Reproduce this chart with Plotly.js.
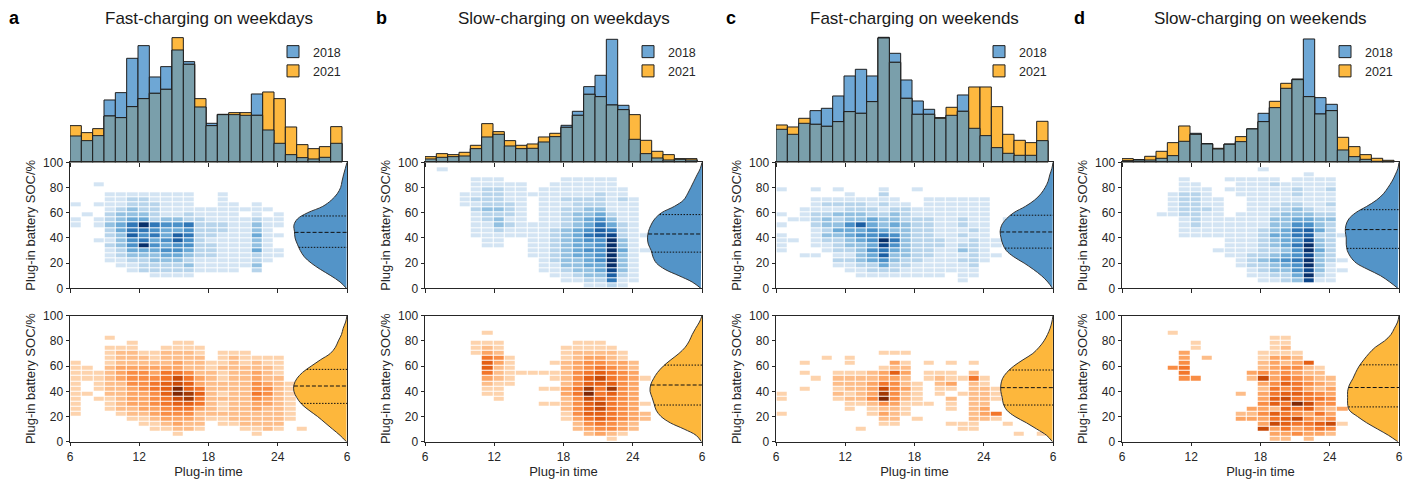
<!DOCTYPE html>
<html>
<head>
<meta charset="utf-8">
<script src="https://cdn.plot.ly/plotly-3.0.1.min.js"></script>
<style>
html,body{margin:0;padding:0;background:#ffffff;}
#chart{width:1415px;height:479px;}
</style>
</head>
<body>
<div id="chart"></div>
<script>
// ================= DATA =================
const panelTitles = ['Fast-charging on weekdays','Slow-charging on weekdays','Fast-charging on weekends','Slow-charging on weekends'];
const panelLetters = ['a','b','c','d'];
const yearLabels = ['2018','2021'];
const timeTickValues = [6,12,18,24,30];
const timeTickLabels = ['6','12','18','24','6'];
const socTickValues = [0,20,40,60,80,100];
const hourBins = [6,7,8,9,10,11,12,13,14,15,16,17,18,19,20,21,22,23,24,25,26,27,28,29];

// top histograms (relative frequency per plug-in hour bin)
const fastWeekday2018 = [7.9,6.5,8.0,18.7,20.9,31.2,35.0,25.6,28.7,33.7,30.2,16.6,11.7,14.4,14.3,14.1,20.5,9.7,5.7,2.3,1.4,1.0,1.5,5.7];
const fastWeekday2021 = [11.0,8.9,10.1,13.9,13.4,16.7,19.1,20.7,21.9,37.4,29.4,19.1,11.0,14.3,14.9,14.9,14.1,21.1,19.1,10.6,5.3,4.1,4.7,10.7];
const slowWeekday2018 = [1.0,1.5,1.7,1.9,4.1,7.6,8.4,4.9,4.1,4.2,6.1,7.7,11.1,15.3,22.7,26.1,36.9,17.1,6.9,2.6,1.3,0.7,0.9,0.7];
const slowWeekday2021 = [1.7,2.6,2.3,3.0,5.1,11.6,9.2,6.5,5.1,5.5,7.6,8.7,10.5,14.1,20.4,19.7,17.2,15.8,14.3,6.6,3.3,2.3,1.1,1.1];
const fastWeekend2018 = [9.9,8.4,11.7,15.5,16.2,19.9,25.9,27.9,25.9,37.5,32.7,24.7,18.4,15.9,13.2,14.1,20.2,10.2,8.0,4.4,2.7,2.1,2.1,6.5];
const fastWeekend2021 = [11.2,10.6,13.2,11.4,10.8,12.2,15.2,14.7,18.2,37.3,30.0,19.2,14.4,14.4,13.4,16.5,15.3,22.6,22.6,16.7,8.4,6.6,5.9,12.3];
const slowWeekend2018 = [0.5,0.8,0.7,1.2,2.0,6.3,8.7,5.6,4.0,5.5,6.2,10.0,14.7,16.4,22.2,25.0,37.0,19.4,17.4,3.7,1.7,0.9,0.3,0.2];
const slowWeekend2021 = [1.1,0.7,1.8,3.3,5.9,10.9,8.4,5.5,4.2,5.4,7.7,10.0,12.2,18.3,23.7,24.8,19.7,14.5,15.5,7.5,4.7,2.3,1.2,0.6];

// 2D histograms: density level 0-9 per cell; rows from SOC 96-100 (top) down to 0-4,
// columns = hour bins from 6:00 (groups of five separated by spaces)
const heatFastWeekday2018 = ['','','','','00100','',
 '00011 11111 10010','00011 22111 10010','10111 22211 10011 01000','00012 32211 11111 11100',
 '01023 33211 21111 01010','10123 44233 22111 12110','10134 69655 62221 13110','00024 66544 52221 13100',
 '00023 75647 62211 14110','00113 56457 52111 13100','00023 59545 52211 13100','00012 44455 42211 14110',
 '00012 33344 32211 12110','00011 22333 21111 12100','00001 12222 31111 13000','00000 12222 21111 02000',
 '00000 00111 10000','',''];
const heatFastWeekday2021 = ['','','','','00010','00000 10001 10000',
 '00011 10011 11000','00012 21122 21011 10000','00012 22122 22012 11110','10012 22223 22112 12110',
 '11023 33333 22122 22210','11123 44355 42212 23210','11123 44457 53212 23220','10122 44567 63222 24321',
 '10122 34569 65222 24421','11022 33469 86212 25421','10112 33457 85222 24321','10012 33456 65212 23321',
 '10012 23345 53212 23221','10001 22344 42222 22221','00000 11233 32112 22221','00000 01123 22011 22220',
 '00000 00112 21000 11210 1','00000 00001 00000 01000',''];
const heatSlowWeekday2018 = ['','01000','','00001 11000 00111 11000','00001 11110 01111 11000','00001 22110 11111 11100',
 '00011 22111 11111 21100','00012 22110 11222 21210','00011 22210 11122 21110','00002 33210 11223 31110',
 '00001 22210 11233 42110','00001 23110 11234 53110','00001 13211 11234 64210','00001 12111 12345 76210',
 '00001 11111 12346 78211','00000 11001 12345 59310','00000 11001 12344 59310','00000 00001 12345 59411',
 '00000 00001 12344 59310','00000 00000 12334 59310','00000 00000 11334 49310','00000 00000 11233 48310',
 '00000 00000 01123 37210','00000 00000 00112 26110','00000 00000 00001 12100'];
const heatSlowWeekday2021 = ['','','','00000 10000','','00001 11000 00011 10000',
 '00001 21000 00111 11000','00001 32000 00122 22100','00000 54100 00123 32100','00000 63100 01234 43320',
 '00000 62100 00234 54320','00000 52111 11245 65430','00000 32100 01246 75431','00000 21100 00246 66430',
 '00000 11000 11358 58430','00000 11000 00359 56430','00000 01000 00247 65430','00000 00000 11246 75431',
 '00000 00000 00246 75430','00000 00000 00146 65432','00000 00000 00135 65432','00000 00000 00024 54320',
 '00000 00000 00023 44320','00000 00000 00002 32100','00000 00000 00000 01000'];
const heatFastWeekend2018 = ['','','','','','10010 10001 00100',
 '00000 01002','00011 11111 10011 11110','00012 22212 11011 11110','00111 12221 22111 11110',
 '10122 33322 32111 11110','01123 23343 32221 12110 1','10023 35743 43221 12110','00012 44454 33221 11210 1',
 '10013 34556 53221 12110','11012 23459 63222 11211','10011 23348 53222 12211','10001 22356 43221 13210',
 '00110 11347 33221 11211','00000 22345 32211 12210','00000 11224 22111 11200','00000 01122 21111 11100',
 '00000 00111 11111 01100','00000 00000 00000 01000',''];
const heatFastWeekend2021 = ['','','','','','','',
 '00000 00001 11000','00001 01000','00100 01000 31010 10100','00000 00001 22000',
 '00100 11123 63011 10200','00010 22223 32012 11510','00000 22235 42102 30210','00100 12237 43101 10221',
 '10000 21238 42101 01221','10000 12249 42100 20221','00000 01124 31110 10220','00000 01012 21000 10230',
 '10000 00013 21000 00235','00000 00002 20100 00221','00000 00001 10000 11100 1','00000 00100 00000 01100',
 '00000 00000 00000 00000 0101',''];
const heatSlowWeekend2018 = ['','00000 00000 00100','00000 00000 00000 01000','00000 10001 11110 11110','00000 11000 11121 11110',
 '00000 11101 11111 21120','00001 22100 11111 21110','00001 22110 01111 11110','00001 22110 01112 21120',
 '00001 22210 01122 32110','00011 22110 11123 33220','00000 12111 11133 44330','00000 12111 11133 55320',
 '00000 11111 11234 67420','00000 11111 11244 67221','00000 00001 11234 58320','00000 00001 11234 69320',
 '00000 00011 11223 59420','00000 00001 12234 58320','00000 00000 12345 69321','00000 00000 12234 59310',
 '00000 00000 01233 58311','00000 00000 01122 49210','00000 00000 00112 38110',''];
const heatSlowWeekend2021 = ['','','','00001','00000 00000 00011','00000 01000 00011',
 '00000 01000 00012','00000 30000 00111 10000','00000 30200 00133 20000','00000 40000 00232 36000',
 '00004 50000 00234 42100','00000 50000 03434 32200','00000 44000 02735 43220','00000 00000 00346 54320',
 '00000 00000 00254 53230','00000 00000 20356 65430','00000 00000 00367 55540','00000 00000 00465 97440',
 '00000 00000 03326 56323','00000 00000 22465 43530','00000 00000 33356 74340','00000 00000 00376 55671',
 '00000 00000 00735 34540','00000 00000 00033 43320','00000 00000 00022 02000'];

// half-violins: density width (in hours) at each SOC level, and quartiles [Q1, median, Q3]
const socGrid = [0,5,10,15,20,25,30,35,40,45,50,55,60,65,70,75,80,85,90,95,100];
const violinFastWeekday2018 = [0.05,0.6,1.4,2.3,3.1,3.7,4.05,4.3,4.5,4.55,4.6,4.3,3.4,2.1,1.35,0.85,0.55,0.43,0.3,0.15,0];
const violinFastWeekday2021 = [0.05,0.6,1.25,1.9,2.55,3.3,3.95,4.35,4.6,4.6,4.35,3.85,3.1,2.3,1.45,1.0,0.75,0.48,0.33,0.12,0];
const violinSlowWeekday2018 = [0.1,0.85,2.0,3.2,3.95,4.25,4.4,4.65,4.72,4.64,4.43,4.1,3.5,2.4,1.6,1.25,0.97,0.7,0.43,0.15,0];
const violinSlowWeekday2021 = [0.05,0.5,1.55,2.75,3.55,3.97,4.15,4.32,4.5,4.45,4.2,3.85,3.35,2.7,2.0,1.45,1.1,0.85,0.55,0.22,0];
const violinFastWeekend2018 = [0.05,0.45,1.0,1.7,2.5,3.4,4.05,4.35,4.5,4.58,4.45,4.05,3.4,2.4,1.6,1.05,0.68,0.42,0.28,0.1,0];
const violinFastWeekend2021 = [0.05,0.55,1.4,2.3,3.3,4.0,4.3,4.4,4.52,4.52,4.38,4.0,3.4,2.6,1.75,1.2,0.78,0.48,0.25,0.1,0];
const violinSlowWeekend2018 = [0.1,0.8,1.6,2.7,3.7,4.2,4.48,4.57,4.57,4.65,4.6,4.35,3.75,2.8,1.95,1.35,0.95,0.6,0.33,0.1,0];
const violinSlowWeekend2021 = [0.1,0.9,1.85,2.8,3.6,4.3,4.45,4.45,4.45,4.3,4.0,3.75,3.45,3.05,2.6,2.05,1.25,0.7,0.4,0.12,0];
const quartFastWeekday2018 = [32.5,44.4,57.4];
const quartFastWeekday2021 = [30.4,44.2,57.4];
const quartSlowWeekday2018 = [28.7,43.1,58.5];
const quartSlowWeekday2021 = [29.1,45.0,60.8];
const quartFastWeekend2018 = [31.9,44.7,58.0];
const quartFastWeekend2021 = [29.1,42.9,56.9];
const quartSlowWeekend2018 = [31.7,46.6,62.4];
const quartSlowWeekend2021 = [27.6,43.0,61.0];

// ================= BINNING / STYLE =================
const HIST_X0 = 6.0, HIST_DX = 0.982;
const HEAT_X0 = 6.06, HEAT_DX = 0.978, HEAT_Y0 = 0, HEAT_DY = 4, HEAT_COLS = 24;
const VIOLIN_BASE = 30;
const COLOR_2018 = '#6ea7d5', COLOR_2021 = '#fdb83f', COLOR_OVERLAP = '#7a9fab';
const VIOLIN_BLUE = '#5394c8', VIOLIN_ORANGE = '#fdb73c';
const blueScale = [[0,'#d3e4f3'],[0.125,'#b7d4eb'],[0.25,'#92c0e1'],[0.375,'#6ba9d6'],[0.5,'#4a90c8'],[0.625,'#3077b7'],[0.75,'#1c5fa3'],[0.875,'#0d468a'],[1,'#08306b']];
const orangeScale = [[0,'#fdd3ad'],[0.125,'#fdbd89'],[0.25,'#fca564'],[0.375,'#f98d45'],[0.5,'#f2762b'],[0.625,'#e35f15'],[0.75,'#c84a08'],[0.875,'#a23905'],[1,'#7f2704']];

const panels = [
  {h18: fastWeekday2018, h21: fastWeekday2021, m18: heatFastWeekday2018, m21: heatFastWeekday2021, v18: violinFastWeekday2018, v21: violinFastWeekday2021, q18: quartFastWeekday2018, q21: quartFastWeekday2021},
  {h18: slowWeekday2018, h21: slowWeekday2021, m18: heatSlowWeekday2018, m21: heatSlowWeekday2021, v18: violinSlowWeekday2018, v21: violinSlowWeekday2021, q18: quartSlowWeekday2018, q21: quartSlowWeekday2021},
  {h18: fastWeekend2018, h21: fastWeekend2021, m18: heatFastWeekend2018, m21: heatFastWeekend2021, v18: violinFastWeekend2018, v21: violinFastWeekend2021, q18: quartFastWeekend2018, q21: quartFastWeekend2021},
  {h18: slowWeekend2018, h21: slowWeekend2021, m18: heatSlowWeekend2018, m21: heatSlowWeekend2021, v18: violinSlowWeekend2018, v21: violinSlowWeekend2021, q18: quartSlowWeekend2018, q21: quartSlowWeekend2021}
];

// ================= LAYOUT GEOMETRY (pixels) =================
const W = 1415, H = 479;
const PANEL_LEFT = [70, 425, 776, 1122], PANEL_W = 277;
const ROWS = [{top: 33, bottom: 162.3}, {top: 162.3, bottom: 288.3}, {top: 315.7, bottom: 441.7}];
const HIST_RANGE = (ROWS[0].bottom - ROWS[0].top) * 0.3;
const TICK_FONT = {family: 'Liberation Sans, Arial, sans-serif', size: 12, color: '#262626'};
const LABEL_FONT = {family: 'Liberation Sans, Arial, sans-serif', size: 13, color: '#262626'};

function parseHeat(rows) {
  const z = rows.map(s => {
    const t = s.replace(/ /g, '').padEnd(HEAT_COLS, '0').slice(0, HEAT_COLS);
    return t.split('').map(ch => ch === '0' ? null : Number(ch));
  });
  return z.reverse();
}
function interp(widths, q) {
  for (let i = 0; i < socGrid.length - 1; i++) {
    if (q >= socGrid[i] && q <= socGrid[i + 1]) {
      const f = (q - socGrid[i]) / (socGrid[i + 1] - socGrid[i]);
      return widths[i] * (1 - f) + widths[i + 1] * f;
    }
  }
  return 0;
}
function ids(i, k) {
  const n = i * 3 + k + 1;
  return {x: n === 1 ? 'x' : 'x' + n, y: n === 1 ? 'y' : 'y' + n, xl: n === 1 ? 'xaxis' : 'xaxis' + n, yl: n === 1 ? 'yaxis' : 'yaxis' + n};
}

const traces = [];
const layout = {
  width: W, height: H, margin: {l: 0, r: 0, t: 0, b: 0},
  paper_bgcolor: '#ffffff', plot_bgcolor: '#ffffff',
  barmode: 'overlay', bargap: 0, showlegend: true,
  font: TICK_FONT, annotations: []
};

const histCenters = hourBins.map(h => HIST_X0 + (h - hourBins[0]) * HIST_DX + HIST_DX / 2);

panels.forEach((p, i) => {
  const x0 = PANEL_LEFT[i] / W, x1 = (PANEL_LEFT[i] + PANEL_W) / W;
  const legendName = i === 0 ? 'legend' : 'legend' + (i + 1);

  // ---- histogram ----
  const a = ids(i, 0);
  const overlap = p.h18.map((v, j) => Math.min(v, p.h21[j]));
  const barLine = {color: '#1e1e1e', width: 1};
  traces.push({type: 'bar', x: histCenters, y: p.h18, width: HIST_DX, name: yearLabels[0], marker: {color: COLOR_2018, line: barLine}, xaxis: a.x, yaxis: a.y, legend: legendName, hoverinfo: 'skip'});
  traces.push({type: 'bar', x: histCenters, y: p.h21, width: HIST_DX, name: yearLabels[1], marker: {color: COLOR_2021, line: barLine}, xaxis: a.x, yaxis: a.y, legend: legendName, hoverinfo: 'skip'});
  traces.push({type: 'bar', x: histCenters, y: overlap, width: HIST_DX, showlegend: false, marker: {color: COLOR_OVERLAP, line: barLine}, xaxis: a.x, yaxis: a.y, hoverinfo: 'skip'});
  layout[a.xl] = {domain: [x0, x1], anchor: a.y, range: [6, 30], tickvals: timeTickValues, showticklabels: false, ticks: 'outside', ticklen: 3.5, tickcolor: '#262626', showline: false, showgrid: false, zeroline: false, fixedrange: true};
  layout[a.yl] = {domain: [1 - ROWS[0].bottom / H, 1 - ROWS[0].top / H], anchor: a.x, range: [0, HIST_RANGE], visible: false, fixedrange: true};
  layout[legendName] = {x: (PANEL_LEFT[i] + 203) / W, xanchor: 'left', y: 1 - 37 / H, yanchor: 'top', bgcolor: 'rgba(0,0,0,0)', borderwidth: 0,
    font: {family: 'Liberation Sans, Arial, sans-serif', size: 12.5, color: '#262626'}, itemwidth: 30, tracegroupgap: 0};

  // ---- heatmaps + violins ----
  [[p.m18, p.v18, p.q18, blueScale, VIOLIN_BLUE], [p.m21, p.v21, p.q21, orangeScale, VIOLIN_ORANGE]].forEach((cfg, r) => {
    const k = r + 1;
    const s = ids(i, k);
    traces.push({type: 'heatmap', z: parseHeat(cfg[0]), x0: HEAT_X0 + HEAT_DX / 2, dx: HEAT_DX, y0: HEAT_Y0 + HEAT_DY / 2, dy: HEAT_DY,
      colorscale: cfg[3], zmin: 1, zmax: 9, showscale: false, xgap: 1, ygap: 1, hoverinfo: 'skip', xaxis: s.x, yaxis: s.y});
    const widths = cfg[1], q = cfg[2];
    traces.push({type: 'scatter', mode: 'lines', x: widths.map(w => VIOLIN_BASE - w), y: socGrid, fill: 'toself', fillcolor: cfg[4],
      line: {color: '#333333', width: 1, shape: 'spline', smoothing: 1}, xaxis: s.x, yaxis: s.y, hoverinfo: 'skip', showlegend: false});
    traces.push({type: 'scatter', mode: 'lines', x: [VIOLIN_BASE - interp(widths, q[0]), VIOLIN_BASE, null, VIOLIN_BASE - interp(widths, q[2]), VIOLIN_BASE],
      y: [q[0], q[0], null, q[2], q[2]], line: {color: '#111111', width: 1, dash: '1.5px,1.5px'}, xaxis: s.x, yaxis: s.y, hoverinfo: 'skip', showlegend: false});
    traces.push({type: 'scatter', mode: 'lines', x: [VIOLIN_BASE - interp(widths, q[1]), VIOLIN_BASE], y: [q[1], q[1]],
      line: {color: '#111111', width: 1, dash: '4px,2px'}, xaxis: s.x, yaxis: s.y, hoverinfo: 'skip', showlegend: false});

    const row = ROWS[k];
    layout[s.xl] = {domain: [x0, x1], anchor: s.y, range: [6, 30], tickvals: timeTickValues, ticktext: timeTickLabels,
      showticklabels: k === 2, ticks: 'outside', ticklen: 3.5, tickwidth: 1, tickcolor: '#262626', tickfont: TICK_FONT,
      showline: true, mirror: true, linecolor: '#262626', linewidth: 1, showgrid: false, zeroline: false, fixedrange: true,
      title: k === 2 ? {text: 'Plug-in time', font: LABEL_FONT, standoff: 2} : undefined};
    layout[s.yl] = {domain: [1 - row.bottom / H, 1 - row.top / H], anchor: s.x, range: [0, 100], tickvals: socTickValues,
      ticks: 'outside', ticklen: 3.5, tickwidth: 1, tickcolor: '#262626', tickfont: TICK_FONT,
      showline: true, mirror: true, linecolor: '#262626', linewidth: 1, showgrid: false, zeroline: false, fixedrange: true,
      title: {text: 'Plug-in battery SOC/%', font: LABEL_FONT, standoff: 4}};
  });

  // ---- titles ----
  layout.annotations.push({xref: 'paper', yref: 'paper', x: (PANEL_LEFT[i] + PANEL_W / 2) / W, y: 1 - 18 / H, xanchor: 'center', yanchor: 'middle',
    text: panelTitles[i], showarrow: false, font: {family: 'Liberation Sans, Arial, sans-serif', size: 17, color: '#1a1a1a'}});
  const letterX = [14, 381, 731, 1079][i];
  layout.annotations.push({xref: 'paper', yref: 'paper', x: letterX / W, y: 1 - 18 / H, xanchor: 'center', yanchor: 'middle',
    text: '<b>' + panelLetters[i] + '</b>', showarrow: false, font: {family: 'Liberation Sans, Arial, sans-serif', size: 18, color: '#000000'}});
});

Plotly.newPlot('chart', traces, layout, {displayModeBar: false, staticPlot: true});
</script>
</body>
</html>
